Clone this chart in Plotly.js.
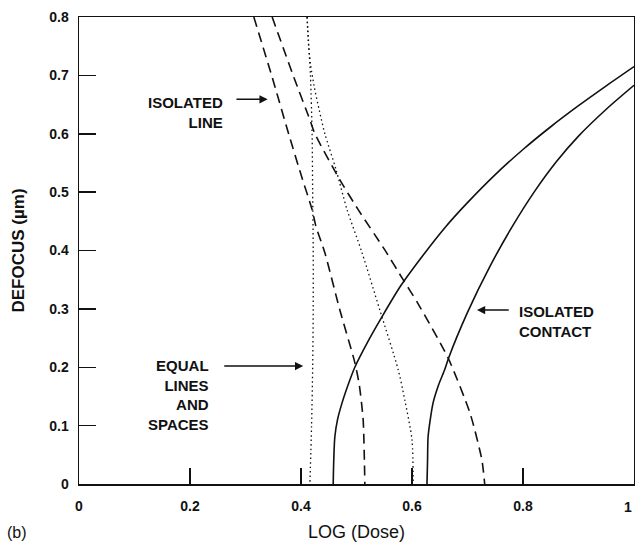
<!DOCTYPE html>
<html>
<head>
<meta charset="utf-8">
<script src="https://cdn.plot.ly/plotly-3.0.1.min.js"></script>
<style>html,body{margin:0;padding:0;background:#fff;}#chart{width:635px;height:542px;}</style>
</head>
<body>
<div id="chart"></div>
<script>
// ---- data ----
// Isolated contact (two solid curves)
const contactLowX  = [0.458, 0.459, 0.461, 0.466, 0.474, 0.488, 0.497, 0.520, 0.545, 0.580, 0.620, 0.660, 0.700, 0.750, 0.800, 0.850, 0.900, 0.950, 1.0];
const contactLowY  = [0.0,   0.04,  0.081, 0.111, 0.139, 0.178, 0.200, 0.243, 0.285, 0.340, 0.392, 0.440, 0.482, 0.530, 0.573, 0.612, 0.648, 0.682, 0.715];
const contactHighX = [0.627, 0.628, 0.629, 0.633, 0.638, 0.648, 0.659, 0.666, 0.700, 0.740, 0.780, 0.820, 0.860, 0.900, 0.950, 1.0];
const contactHighY = [0.0,   0.04,  0.081, 0.111, 0.139, 0.170, 0.196, 0.216, 0.294, 0.372, 0.440, 0.500, 0.552, 0.596, 0.642, 0.683];
// Isolated line (two dashed curves)
const lineLowX  = [0.315, 0.348, 0.378, 0.400, 0.420, 0.427, 0.443, 0.470, 0.497, 0.505, 0.512, 0.515];
const lineLowY  = [0.8,   0.697, 0.599, 0.530, 0.470, 0.441, 0.396, 0.298, 0.208, 0.170, 0.110, 0.0];
const lineHighX = [0.348, 0.387, 0.416, 0.425, 0.470, 0.503, 0.551, 0.584, 0.609, 0.665, 0.705, 0.726, 0.731];
const lineHighY = [0.8,   0.697, 0.624, 0.600, 0.521, 0.470, 0.401, 0.350, 0.312, 0.216, 0.120, 0.041, 0.0];
// Equal lines and spaces (two dotted curves)
const equalLowX  = [0.411, 0.414, 0.417, 0.420, 0.421, 0.422, 0.422, 0.421, 0.419, 0.416];
const equalLowY  = [0.8,   0.75,  0.70,  0.60,  0.50,  0.40,  0.30,  0.20,  0.10,  0.0];
const equalHighX = [0.411, 0.413, 0.417, 0.424, 0.433, 0.443, 0.463, 0.483, 0.510, 0.542, 0.575, 0.587, 0.600, 0.602];
const equalHighY = [0.8,   0.76,  0.72,  0.68,  0.64,  0.60,  0.539, 0.47,  0.396, 0.298, 0.196, 0.144, 0.075, 0.0];

const xTicks = [0, 0.2, 0.4, 0.6, 0.8, 1];
const xTickText = ['0', '0.2', '0.4', '0.6', '0.8', ''];   // '1' is drawn as an annotation so it stays inside the page
const xLastTickLabel = '1';
const yTicks = [0, 0.1, 0.2, 0.3, 0.4, 0.5, 0.6, 0.7, 0.8];
const yTickText = ['0', '0.1', '0.2', '0.3', '0.4', '0.5', '0.6', '0.7', '0.8'];

// ---- styling ----
const FONT = 'Liberation Sans, Arial, Helvetica, sans-serif';
const solid  = {color: '#111', width: 1.6, shape: 'spline', smoothing: 0.8};
const dashed = {color: '#111', width: 1.6, dash: '10px,6px', shape: 'spline', smoothing: 0.6};
const dotted = {color: '#111', width: 1.3, dash: '1.5px,3px', shape: 'spline', smoothing: 0.8};

const traces = [
  {x: contactLowX,  y: contactLowY,  mode: 'lines', line: solid,  name: 'Isolated contact (low)'},
  {x: contactHighX, y: contactHighY, mode: 'lines', line: solid,  name: 'Isolated contact (high)'},
  {x: lineLowX,     y: lineLowY,     mode: 'lines', line: dashed, name: 'Isolated line (low)'},
  {x: lineHighX,    y: lineHighY,    mode: 'lines', line: dashed, name: 'Isolated line (high)'},
  {x: equalLowX,    y: equalLowY,    mode: 'lines', line: dotted, name: 'Equal lines and spaces (low)'},
  {x: equalHighX,   y: equalHighY,   mode: 'lines', line: dotted, name: 'Equal lines and spaces (high)'}
];

const tickFont = {family: FONT, size: 14, color: '#111', weight: 'bold'};
const labelFont = {family: FONT, size: 15, color: '#111', weight: 'bold'};
function arrow(tailX, tailY, headX, headY) {
  return {x: headX, y: headY, ax: tailX, ay: tailY, xref: 'x', yref: 'y', axref: 'x', ayref: 'y',
          text: '', showarrow: true, arrowhead: 2, arrowsize: 1.1, arrowwidth: 1.5, arrowcolor: '#111',
          standoff: 0, startstandoff: 0};
}

const annotations = [
  {x: 0.263, y: 0.637, xref: 'x', yref: 'y', text: 'ISOLATED<br>LINE', showarrow: false,
   xanchor: 'right', yanchor: 'middle', align: 'right', font: labelFont},
  arrow(0.281, 0.659, 0.340, 0.659),
  {x: 0.238, y: 0.152, xref: 'x', yref: 'y', text: 'EQUAL<br>LINES<br>AND<br>SPACES', showarrow: false,
   xanchor: 'right', yanchor: 'middle', align: 'right', font: labelFont},
  arrow(0.259, 0.202, 0.404, 0.202),
  {x: 0.789, y: 0.278, xref: 'x', yref: 'y', text: 'ISOLATED<br>CONTACT', showarrow: false,
   xanchor: 'left', yanchor: 'middle', align: 'left', font: labelFont},
  arrow(0.777, 0.298, 0.717, 0.298),
  // last x tick label, right-aligned at the axis end
  {x: xTicks[xTicks.length - 1], y: 0, xref: 'x', yref: 'paper', yshift: -13, text: xLastTickLabel,
   showarrow: false, xanchor: 'right', yanchor: 'top', font: tickFont},
  // panel tag, placed in paper coords (pixel 5, 532 of the 635x542 page)
  {x: (5 - 79) / 555, y: (484 - 532) / 467, xref: 'paper', yref: 'paper', text: '(b)', showarrow: false,
   xanchor: 'left', yanchor: 'middle', font: {family: FONT, size: 16, color: '#111'}}
];

const axisCommon = {
  showgrid: false, zeroline: false, showline: true, mirror: true,
  linecolor: '#111', linewidth: 1.5, ticks: 'inside', tickcolor: '#111', tickwidth: 1.5,
  tickfont: tickFont, automargin: false
};

const layout = {
  width: 635, height: 542,
  margin: {l: 79, r: 1, t: 17, b: 58},
  paper_bgcolor: '#fff', plot_bgcolor: '#fff',
  showlegend: false,
  xaxis: Object.assign({}, axisCommon, {
    range: [0, 1], tickvals: xTicks, ticktext: xTickText, ticklen: 16, ticklabelstandoff: 9,
    title: {text: 'LOG (Dose)', font: {family: FONT, size: 18, color: '#111'}, standoff: 13}
  }),
  yaxis: Object.assign({}, axisCommon, {
    range: [0, 0.8], tickvals: yTicks, ticktext: yTickText, ticklen: 17, ticklabelstandoff: 6,
    title: {text: 'DEFOCUS (µm)', font: {family: FONT, size: 17, color: '#111', weight: 'bold'}, standoff: 20}
  }),
  annotations: annotations
};

Plotly.newPlot('chart', traces, layout, {staticPlot: true, displayModeBar: false});
</script>
</body>
</html>
